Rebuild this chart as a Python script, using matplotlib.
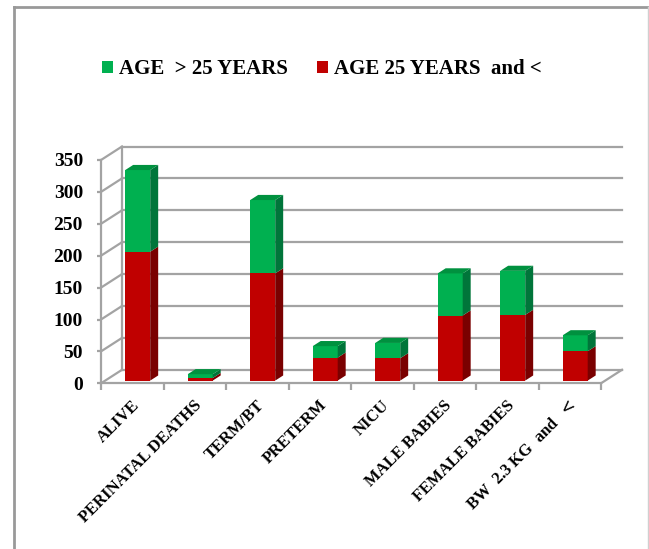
import matplotlib
matplotlib.use('Agg')
import matplotlib.pyplot as plt
from matplotlib.patches import Polygon
from matplotlib.lines import Line2D
from matplotlib.transforms import ScaledTranslation
import numpy as np

categories = ['ALIVE', 'PERINATAL DEATHS', 'TERM/BT', 'PRETERM', 'NICU',
              'MALE BABIES', 'FEMALE BABIES', r'BW  2.3 KG  and  $<$']
age_25_and_less = [202, 4, 168, 36, 35, 102, 103, 46]
age_over_25 = [128, 6, 115, 18, 24, 66, 69, 25]
y_ticks = [0, 50, 100, 150, 200, 250, 300, 350]
legend_labels = ['AGE  > 25 YEARS', 'AGE 25 YEARS  and <']

W, H = 649, 549
fig = plt.figure(figsize=(W / 100, H / 100), dpi=100)
fig.patch.set_facecolor('white')

SERIF = ['Liberation Serif', 'DejaVu Serif']
GRID = '#a3a3a3'

ax = fig.add_axes([101 / W, 1 - 383.3 / H, 500 / W, (383.3 - 160) / H])
n = len(categories)
ax.set_xlim(0, n)
ax.set_ylim(0, 350)
ax.set_facecolor('none')

# depth vector (data units)
DX = 21.0 / 62.5
DY = 13.5 / (223.3 / 350)

# back wall gridlines, left wall diagonals
for v in y_ticks:
    ax.plot([DX, n + DX], [v + DY, v + DY], color=GRID, lw=1.6, clip_on=False, zorder=1)
    ax.plot([0, DX], [v, v + DY], color=GRID, lw=1.6, clip_on=False, zorder=1)
ax.plot([DX, DX], [DY, 350 + DY], color=GRID, lw=1.6, clip_on=False, zorder=1)
ax.plot([n, n + DX], [0, DY], color=GRID, lw=1.6, clip_on=False, zorder=1)

# bars
f0, f1 = 0.2, 0.58
bw = 0.4
ddx = (f1 - f0) * DX
ddy = (f1 - f0) * DY
xc = np.arange(n) + 0.5 + f0 * DX + 0.02
b0 = f0 * DY
red = np.array(age_25_and_less, dtype=float)
green = np.array(age_over_25, dtype=float)

cols = {
    'red': ('#c00000', '#7a0000', '#a00000'),
    'green': ('#00b050', '#00753a', '#00913f'),
}

bars_red = ax.bar(xc, red, width=bw, bottom=b0, color=cols['red'][0], zorder=3,
                  clip_on=False)
bars_green = ax.bar(xc, green, width=bw, bottom=b0 + red, color=cols['green'][0],
                    zorder=3, clip_on=False)

for i in range(n):
    segs = [(b0, b0 + red[i], 'red'), (b0 + red[i], b0 + red[i] + green[i], 'green')]
    xl = xc[i] - bw / 2
    xr = xc[i] + bw / 2
    for (b, t, c) in segs:
        side = Polygon([(xr, b), (xr + ddx, b + ddy), (xr + ddx, t + ddy), (xr, t)],
                       closed=True, facecolor=cols[c][1], edgecolor='none',
                       zorder=3, clip_on=False)
        ax.add_patch(side)
    t = b0 + red[i] + green[i]
    top = Polygon([(xl, t), (xr, t), (xr + ddx, t + ddy), (xl + ddx, t + ddy)],
                  closed=True, facecolor=cols['green'][2], edgecolor='none',
                  zorder=3, clip_on=False)
    ax.add_patch(top)

# spines
for s in ['top', 'right']:
    ax.spines[s].set_visible(False)
for s in ['left', 'bottom']:
    ax.spines[s].set_color(GRID)
    ax.spines[s].set_linewidth(1.6)

ax.set_yticks(y_ticks)
ax.set_yticklabels([str(v) for v in y_ticks], fontfamily=SERIF, fontweight='bold',
                   fontsize=14)
ax.tick_params(axis='y', length=3, width=1.6, color=GRID, pad=10)

ax.set_xticks(np.arange(n + 1))
ax.set_xticklabels([])
ax.tick_params(axis='x', which='major', length=5, width=1.6, color=GRID)
ax.set_xticks(np.arange(n) + 0.5, minor=True)
ax.set_xticklabels(categories, minor=True, rotation=45, ha='right',
                   rotation_mode='anchor', fontfamily=SERIF, fontweight='bold',
                   fontsize=12)
ax.tick_params(axis='x', which='minor', length=0, pad=10)
off = ScaledTranslation(-1 / 100, 0, fig.dpi_scale_trans)
for lbl in ax.get_xticklabels(minor=True):
    lbl.set_transform(lbl.get_transform() + off)

# legend
fig.legend([bars_green, bars_red], legend_labels, loc='center',
           bbox_to_anchor=(322 / W, 1 - 69 / H), ncol=2, frameon=False,
           prop={'family': SERIF, 'weight': 'bold', 'size': 15},
           handlelength=0.5, handleheight=0.5, handletextpad=0.3,
           columnspacing=1.4)

# outer frame
fig.add_artist(Line2D([13.5 / W, 13.5 / W], [0, 1 - 7 / H], color='#999999', lw=2))
fig.add_artist(Line2D([13.5 / W, 648 / W], [1 - 7 / H, 1 - 7 / H], color='#999999', lw=2))
fig.add_artist(Line2D([648 / W, 648 / W], [0, 1 - 7 / H], color='#d0d0d0', lw=1))

fig.savefig('out.png', dpi=100)
